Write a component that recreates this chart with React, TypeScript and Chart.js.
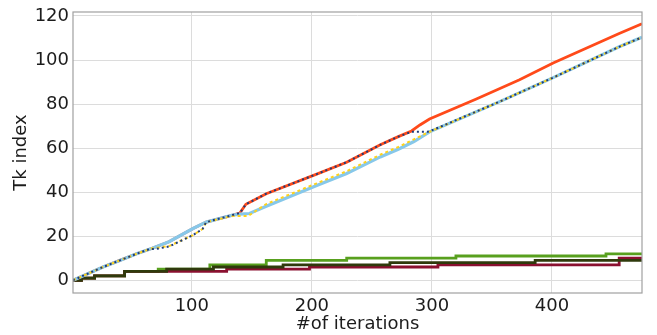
import React, { useEffect, useRef } from "react";
import { Chart, registerables } from "chart.js";

Chart.register(...registerables);

type Pt = [number, number];

// Axis setup
const X_RANGE: [number, number] = [1, 475];
const Y_RANGE: [number, number] = [-5.8, 121.8];
const X_TICKS = [100, 200, 300, 400];
const Y_TICKS = [0, 20, 40, 60, 80, 100, 120];
const X_TITLE = "#of iterations";
const Y_TITLE = "Tk index";

// Upper series
const ORANGE: Pt[] = [
  [1, 0], [26, 6], [40, 9], [54, 12], [67, 14.5], [81, 17.5], [101, 23.5], [112, 26.4],
  [134, 29.6], [140, 30.5], [145, 34.5], [162, 39.3], [204, 48.2], [229, 53.6], [257, 61.5],
  [272, 65.2], [283, 67.8], [290, 70.5], [298, 73.2], [337, 82.3], [373, 91], [401, 98.6],
  [456, 112], [475, 116.5],
];
const NAVY: Pt[] = [
  [1, 0], [26, 6], [40, 9], [54, 12], [65, 14.2], [70, 14.2], [81, 15.3], [101, 20.5],
  [109, 23.3], [112, 26.4], [134, 29.6], [140, 30.5], [145, 34.5], [162, 39.3], [204, 48.2],
  [229, 53.6], [257, 61.5], [272, 65.2], [283, 67.4], [296, 67.4], [298, 67.6], [356, 81],
  [401, 92], [456, 106], [475, 110.3],
];
const SKYBLUE: Pt[] = [
  [1, 0], [26, 6], [40, 9], [54, 12], [67, 14.5], [81, 17.5], [101, 23.5], [112, 26.4],
  [134, 29.6], [140, 30], [148, 30.3], [162, 33.6], [204, 43], [229, 48.5], [257, 56],
  [272, 59.5], [285, 63], [298, 67.4], [356, 81], [401, 92], [456, 106], [475, 110.3],
];
const GOLD: Pt[] = [
  [1, 0], [26, 6], [40, 9], [54, 12], [67, 14.5], [72, 14.8], [81, 15.5], [101, 20.5],
  [109, 23.3], [112, 26.4], [134, 29.2], [147, 29.2], [152, 31], [162, 34.6], [204, 44],
  [229, 49.5], [257, 57], [272, 60.5], [285, 64], [298, 67.4], [356, 81], [401, 92],
  [456, 106], [475, 110.3],
];

// Lower step series
const GREEN: Pt[] = [
  [1, 0], [8, 1], [19, 2], [44, 4], [72, 5], [115, 7], [162, 9], [229, 10], [320, 11],
  [445, 12], [475, 12],
];
const OLIVE: Pt[] = [
  [1, 0], [8, 1], [19, 2], [44, 4], [79, 5], [118, 6], [176, 7], [265, 8], [386, 9], [475, 9],
];
const MAROON: Pt[] = [
  [1, 0], [8, 1], [19, 2], [44, 4], [129, 5], [198, 6], [305, 7], [456, 10], [475, 10],
];

const toXY = (pts: Pt[]) => pts.map(([x, y]) => ({ x, y }));

const FONT = { family: "'DejaVu Sans', sans-serif", size: 18 };
const TEXT = "#1c1c1c";
const GRID = "#dcdcdc";

const framePlugin = {
  id: "frame",
  afterDatasetsDraw(chart: any) {
    const { ctx, chartArea } = chart;
    const { left, top, right, bottom } = chartArea;
    ctx.save();
    ctx.strokeStyle = "#a0a0a0";
    ctx.lineWidth = 1.2;
    ctx.strokeRect(left, top, right - left, bottom - top);
    ctx.restore();
  },
};

export default function App() {
  const ref = useRef<HTMLCanvasElement | null>(null);

  useEffect(() => {
    if (!ref.current) return;
    const line = (data: Pt[], color: string, width: number, extra: any = {}) => ({
      data: toXY(data),
      borderColor: color,
      backgroundColor: color,
      borderWidth: width,
      pointRadius: 0,
      tension: 0,
      fill: false,
      ...extra,
    });
    const chart = new Chart(ref.current, {
      type: "line",
      data: {
        datasets: [
          line(NAVY, "#1f3c7a", 2, { borderDash: [2, 3] }),
          line(GOLD, "#ffd21a", 2, { borderDash: [3, 3] }),
          line(SKYBLUE, "#87c8ea", 3.2),
          line(ORANGE, "#ff4a1a", 2.8),
          line(OLIVE, "#2f3a0c", 2.8, { stepped: true }),
          line(MAROON, "#8a1030", 2.8, { stepped: true }),
          line(GREEN, "#58a01e", 2.8, { stepped: true }),
        ] as any,
      },
      options: {
        animation: false,
        responsive: false,
        maintainAspectRatio: false,
        layout: { padding: { top: 12, right: 15, left: 0, bottom: 0 } },
        plugins: { legend: { display: false }, tooltip: { enabled: false } },
        scales: {
          x: {
            type: "linear",
            min: X_RANGE[0],
            max: X_RANGE[1],
            afterBuildTicks: (s: any) => {
              s.ticks = X_TICKS.map((v) => ({ value: v }));
            },
            afterFit: (s: any) => {
              s.height = 42;
              s.paddingLeft = 0;
              s.paddingRight = 0;
            },
            ticks: { font: FONT, color: TEXT, padding: 3, maxRotation: 0, autoSkip: false },
            grid: { color: GRID, lineWidth: 1, drawTicks: false },
            border: { display: false },
            title: {
              display: true,
              text: X_TITLE,
              font: FONT,
              color: TEXT,
              padding: { top: 0, bottom: 0 },
            },
          },
          y: {
            type: "linear",
            min: Y_RANGE[0],
            max: Y_RANGE[1],
            afterBuildTicks: (s: any) => {
              s.ticks = Y_TICKS.map((v) => ({ value: v }));
            },
            afterFit: (s: any) => {
              s.width = 73;
              s.paddingTop = 0;
              s.paddingBottom = 0;
            },
            ticks: { font: FONT, color: TEXT, padding: 4, autoSkip: false },
            grid: { color: GRID, lineWidth: 1, drawTicks: false },
            border: { display: false },
            title: {
              display: true,
              text: Y_TITLE,
              font: FONT,
              color: TEXT,
              padding: { top: 11, bottom: 0 },
            },
          },
        },
      } as any,
      plugins: [framePlugin],
    });
    return () => chart.destroy();
  }, []);

  return (
    <div style={{ position: "fixed", left: 0, top: 0, width: 657, height: 335, background: "#fff" }}>
      <canvas ref={ref} width={657} height={335} style={{ display: "block" }} />
    </div>
  );
}
